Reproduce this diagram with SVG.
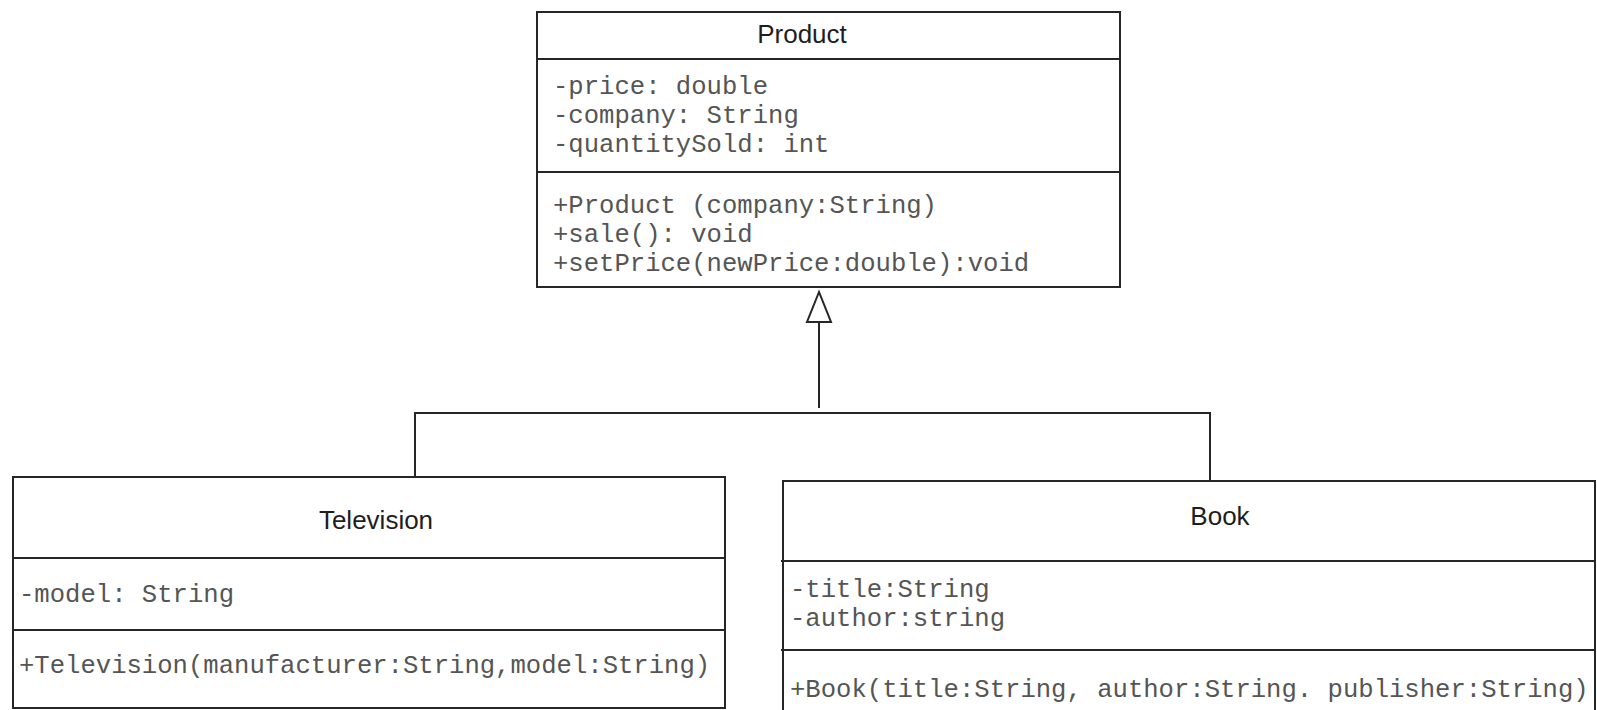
<svg xmlns="http://www.w3.org/2000/svg" width="1597" height="710" viewBox="0 0 1597 710">
  <style>
    .box { fill: #ffffff; stroke: #262626; stroke-width: 2; }
    .div { stroke: #262626; stroke-width: 2; }
    .title { font-family: "Liberation Sans", Arial, sans-serif; font-size: 26px; fill: #1e1e1e; text-anchor: middle; }
    .member { font-family: "Liberation Mono", "Courier New", monospace; font-size: 25.6px; fill: #555555; }
    .conn { fill: none; stroke: #262626; stroke-width: 2; }
  </style>
  <rect width="1597" height="710" fill="#ffffff"/>

  <g id="connectors">
    <!-- generalization: hollow triangle pointing at the superclass -->
    <polygon class="conn" points="819,292 807,322 831,322" stroke-width="2.6"/>
    <line class="conn" x1="819" y1="322" x2="819" y2="408"/>
    <polyline class="conn" points="415,477 415,413 1210,413 1210,481"/>
  </g>

  <g id="product">
    <rect class="box" x="537" y="12" width="583" height="275"/>
    <line class="div" x1="537" y1="59" x2="1120" y2="59"/>
    <line class="div" x1="537" y1="172" x2="1120" y2="172"/>
    <text class="title" x="802" y="43">Product</text>
    <text class="member" x="553" y="94">-price: double</text>
    <text class="member" x="553" y="123">-company: String</text>
    <text class="member" x="553" y="152">-quantitySold: int</text>
    <text class="member" x="553" y="213">+Product (company:String)</text>
    <text class="member" x="553" y="242">+sale(): void</text>
    <text class="member" x="553" y="271">+setPrice(newPrice:double):void</text>
  </g>

  <g id="television">
    <rect class="box" x="13" y="477" width="712" height="231"/>
    <line class="div" x1="13" y1="558" x2="725" y2="558"/>
    <line class="div" x1="13" y1="630" x2="725" y2="630"/>
    <text class="title" x="376" y="529">Television</text>
    <text class="member" x="19" y="602">-model: String</text>
    <text class="member" x="19" y="673">+Television(manufacturer:String,model:String)</text>
  </g>

  <g id="book">
    <rect class="box" x="783" y="481" width="812" height="240"/>
    <line class="div" x1="781" y1="561" x2="1595" y2="561"/>
    <line class="div" x1="781" y1="650" x2="1595" y2="650"/>
    <text class="title" x="1220" y="525">Book</text>
    <text class="member" x="790" y="597">-title:String</text>
    <text class="member" x="790" y="626">-author:string</text>
    <text class="member" x="790" y="697">+Book(title:String, author:String. publisher:String)</text>
  </g>
</svg>
